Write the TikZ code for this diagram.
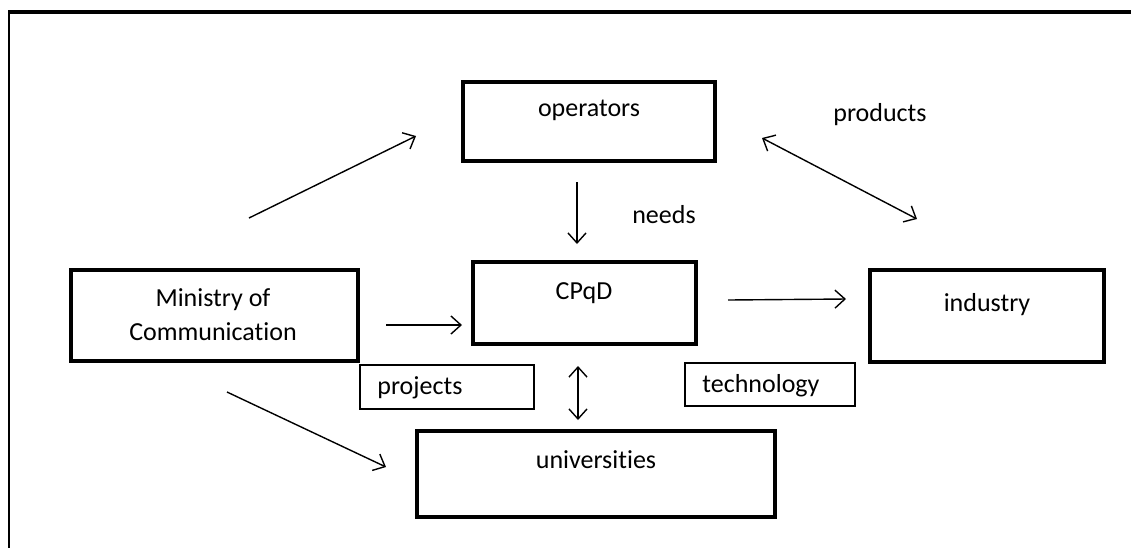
\documentclass[tikz,border=0pt]{standalone}
\usepackage{fontspec}
\setmainfont{Carlito}[Ligatures={NoCommon,NoContextual}]
\usetikzlibrary{arrows.meta}

\begin{document}
\begin{tikzpicture}[x=0.5pt, y=-0.5pt,
    every node/.style={font=\fontsize{13}{17}\selectfont},
    bigbox/.style={draw, line width=2.2pt, inner sep=0pt},
    smallbox/.style={draw, line width=0.7pt, inner sep=0pt},
    link/.style={line width=0.7pt, -{Straight Barb[length=5pt,width=9pt]}},
    twoway/.style={line width=0.7pt, {Straight Barb[length=5pt,width=9pt]}-{Straight Barb[length=5pt,width=9pt]}}]
    \useasboundingbox (0,0) rectangle (1131,548);

    % page frame
    \draw[line width=2pt] (8,11.5) -- (1131,11.5);
    \draw[line width=1pt] (9,10) -- (9,548);

    % boxes
    \node[bigbox, minimum width=126pt, minimum height=39.5pt] (operators) at (589,121.5) {};
    \node[bigbox, minimum width=111.5pt, minimum height=41pt] (cpqd) at (584.5,303) {};
    \node[bigbox, minimum width=143.5pt, minimum height=45.5pt] (ministry) at (214.5,315.5) {};
    \node[bigbox, minimum width=117pt, minimum height=46pt] (industry) at (987,316) {};
    \node[bigbox, minimum width=179pt, minimum height=43pt] (universities) at (596,474) {};
    \node[smallbox, minimum width=87pt, minimum height=22pt] (projects) at (447,387) {};
    \node[smallbox, minimum width=85pt, minimum height=21.5pt] (technology) at (770,384.5) {};

    % texts
    \node (operators text) at (589,110) {operators};
    \node (cpqd text) at (584,293) {CPqD};
    \node[align=center] (ministry text) at (213,315) {Ministry of\\Communication};
    \node (industry text) at (987,305) {industry};
    \node (universities text) at (596,460) {universities};
    \node[anchor=west, inner sep=0pt] (projects text) at (377,388) {projects};
    \node[anchor=west, inner sep=0pt] (technology text) at (702,386) {technology};
    \node (needs) at (664,215) {needs};
    \node (products) at (880,115) {products};

    % arrow ends
    \coordinate (m2o a) at (249,218);
    \coordinate (m2o b) at (416,136);
    \coordinate (m2c a) at (386,325);
    \coordinate (m2c b) at (462,325);
    \coordinate (m2u a) at (227,392);
    \coordinate (m2u b) at (386,467);
    \coordinate (o2c a) at (577,182);
    \coordinate (o2c b) at (577,244);
    \coordinate (o2i a) at (762,138);
    \coordinate (o2i b) at (917,219);
    \coordinate (c2i a) at (728,300);
    \coordinate (c2i b) at (846,299);
    \coordinate (c2u a) at (578,366);
    \coordinate (c2u b) at (578,420);

    % arrows
    \draw[link] (m2o a) -- (m2o b);
    \draw[link] (m2c a) -- (m2c b);
    \draw[link] (m2u a) -- (m2u b);
    \draw[link] (o2c a) -- (o2c b);
    \draw[twoway] (o2i a) -- (o2i b);
    \draw[link] (c2i a) -- (c2i b);
    \draw[twoway] (c2u a) -- (c2u b);
\end{tikzpicture}
\end{document}
